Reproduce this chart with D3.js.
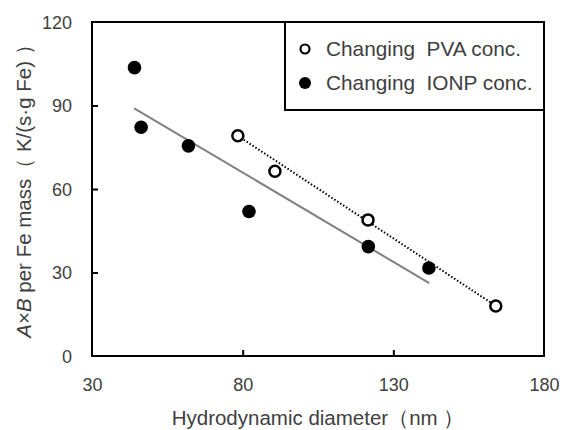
<!DOCTYPE html>
<html><head><meta charset="utf-8">
<script src="https://cdn.jsdelivr.net/npm/d3@7"></script>
<style>body{margin:0;background:#fff;} text{font-family:"Liberation Sans",Arial,sans-serif;}</style>
</head><body>
<svg id="c" width="562" height="430"></svg>
<script>
const pvaX = [78.4, 90.7, 121.6, 164.0];
const pvaY = [79.1, 66.4, 48.9, 18.0];
const ionpX = [44.1, 46.3, 62.0, 82.1, 121.7, 141.8];
const ionpY = [103.6, 82.2, 75.5, 51.9, 39.3, 31.6];
const ionpFitX = [44.0, 141.9];
const ionpFitY = [89.0, 26.2];
const pvaFitX = [78.4, 164.0];
const pvaFitY = [79.1, 18.0];
const xTicks = [30, 80, 130, 180];
const yTicks = [0, 30, 60, 90, 120];
const legendLabels = ["Changing  PVA conc.", "Changing  IONP conc."];

const svg = d3.select("#c");
const L = 92, R = 544, T = 22, B = 356;
const x = d3.scaleLinear().domain([30, 180]).range([L, R]);
const y = d3.scaleLinear().domain([0, 120]).range([B, T]);
const txt = "#404040";

const xAxis = d3.axisBottom(x).tickValues(xTicks).tickSize(-6).tickSizeOuter(0).tickFormat(d3.format("d"));
const gx = svg.append("g").attr("transform", `translate(0,${B})`).call(xAxis);
gx.select(".domain").remove();
gx.selectAll(".tick line").attr("stroke", "#000").attr("stroke-width", 2);
gx.selectAll(".tick text").attr("fill", txt).attr("font-size", 18).attr("dy", 0).attr("y", 35)
  .attr("font-family", '"Liberation Sans",Arial,sans-serif');
gx.selectAll(".tick").filter(d => d === 30 || d === 180).select("line").remove();

const yAxis = d3.axisLeft(y).tickValues(yTicks).tickSize(-6).tickSizeOuter(0);
const gy = svg.append("g").attr("transform", `translate(${L},0)`).call(yAxis);
gy.select(".domain").remove();
gy.selectAll(".tick line").attr("stroke", "#000").attr("stroke-width", 2);
gy.selectAll(".tick text").attr("fill", txt).attr("font-size", 18).attr("x", -20).attr("dy", "0.35em")
  .attr("font-family", '"Liberation Sans",Arial,sans-serif');
gy.selectAll(".tick").filter(d => d === 0 || d === 120).select("line").remove();

svg.append("rect").attr("x", L).attr("y", T).attr("width", R - L).attr("height", B - T)
  .attr("fill", "none").attr("stroke", "#000").attr("stroke-width", 2);

const line = d3.line().x(d => x(d[0])).y(d => y(d[1]));
svg.append("path").datum(ionpFitX.map((v, i) => [v, ionpFitY[i]])).attr("d", line)
  .attr("stroke", "#808080").attr("stroke-width", 2).attr("fill", "none");
svg.append("path").datum(pvaFitX.map((v, i) => [v, pvaFitY[i]])).attr("d", line)
  .attr("stroke", "#000").attr("stroke-width", 2).attr("stroke-dasharray", "1.5,2").attr("fill", "none");

svg.append("g").selectAll("circle").data(ionpX.map((v, i) => [v, ionpY[i]])).join("circle")
  .attr("cx", d => x(d[0])).attr("cy", d => y(d[1])).attr("r", 6.8).attr("fill", "#000");
svg.append("g").selectAll("circle").data(pvaX.map((v, i) => [v, pvaY[i]])).join("circle")
  .attr("cx", d => x(d[0])).attr("cy", d => y(d[1])).attr("r", 5.5).attr("fill", "#fff")
  .attr("stroke", "#000").attr("stroke-width", 2.5);

const lg = svg.append("g");
lg.append("rect").attr("x", 285).attr("y", T).attr("width", R - 285).attr("height", 88)
  .attr("fill", "#fff").attr("stroke", "#000").attr("stroke-width", 2);
lg.append("circle").attr("cx", 305).attr("cy", 49).attr("r", 4.5).attr("fill", "#fff").attr("stroke", "#000").attr("stroke-width", 2.2);
lg.append("circle").attr("cx", 305).attr("cy", 83).attr("r", 6).attr("fill", "#000");
lg.selectAll("text.l").data(legendLabels).join("text").attr("class", "l")
  .attr("x", 326).attr("y", (d, i) => 49 + i * 34).attr("dy", "0.35em")
  .attr("font-size", 20.8).attr("fill", txt).style("white-space", "pre").text(d => d);

svg.append("text").attr("x", 318).attr("y", 425).attr("text-anchor", "middle")
  .attr("font-size", 20.5).attr("fill", txt).style("white-space", "pre").text("Hydrodynamic diameter（nm ）");
const yt = svg.append("text").attr("transform", "translate(31,186) rotate(-90)").attr("text-anchor", "middle")
  .attr("font-size", 20.5).attr("fill", txt).style("white-space", "pre");
yt.append("tspan").attr("font-style", "italic").text("A");
yt.append("tspan").text("×");
yt.append("tspan").attr("font-style", "italic").text("B");
yt.append("tspan").text(" per Fe mass（ K/(s·g Fe) ）");
</script>
</body></html>
